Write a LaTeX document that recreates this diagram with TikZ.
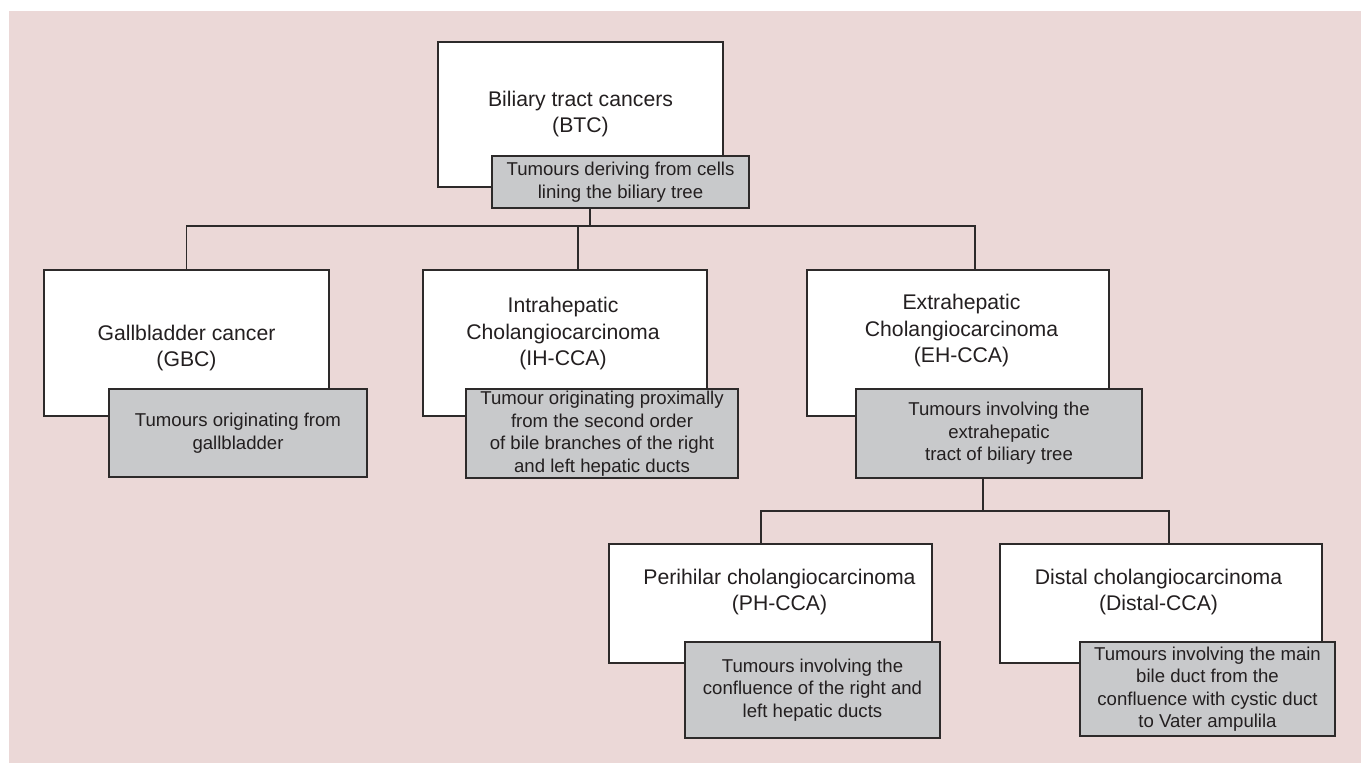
\documentclass[tikz,border=0pt]{standalone}
\usepackage{fontspec}
\setmainfont{Liberation Sans}
\definecolor{bgpink}{RGB}{235,216,215}
\definecolor{greyfill}{RGB}{200,201,203}
\definecolor{linec}{RGB}{45,42,42}
\definecolor{txt}{RGB}{35,31,32}
\begin{document}
\begin{tikzpicture}[x=1pt,y=-1pt,
  wbox/.style={draw=linec, fill=white, line width=1.4pt, inner sep=0pt, anchor=center},
  gbox/.style={draw=linec, fill=greyfill, line width=1.4pt, inner sep=0pt, anchor=center, align=center, text=txt,
     font=\fontsize{18.6}{22.5}\selectfont},
  wtext/.style={inner sep=0pt, align=center, text=txt, font=\fontsize{21.2}{26.5}\selectfont},
  conn/.style={draw=linec, line width=1.4pt}]
\useasboundingbox (0,0) rectangle (1361,763);
\fill[bgpink] (9,11) rectangle (1361,763);

% coordinates for connector columns
\coordinate (c590) at (590,0);
\coordinate (c578) at (578,0);
\coordinate (c975) at (975,0);
\coordinate (c983) at (983,0);
\coordinate (c761) at (761,0);
\coordinate (c1169) at (1169,0);
\coordinate (bus1) at (590,226);
\coordinate (bus2) at (983,511);

% boxes
\node[wbox, minimum width=285, minimum height=145] (btc) at (580.5,114.5) {};
\node[wtext] (btct) at (580.5,114) {Biliary tract cancers\\(BTC)};
\node[gbox, minimum width=257, minimum height=52] (btcg) at (620.5,182) {Tumours deriving from cells\\lining the biliary tree};

\node[wbox, minimum width=285, minimum height=146] (gbc) at (186.5,343) {};
\node[wtext] (gbct) at (186.5,348) {Gallbladder cancer\\(GBC)};
\node[gbox, minimum width=258, minimum height=88] (gbcg) at (238,433) {Tumours originating from\\gallbladder};

\node[wbox, minimum width=284, minimum height=146] (ih) at (565,343) {};
\node[wtext] (iht) at (563,334) {Intrahepatic\\Cholangiocarcinoma\\(IH-CCA)};
\node[gbox, minimum width=272, minimum height=89] (ihg) at (602,433.5) {Tumour originating proximally\\from the second order\\of bile branches of the right\\and left hepatic ducts};

\node[wbox, minimum width=302, minimum height=146] (eh) at (958,343) {};
\node[wtext] (eht) at (961.5,331) {Extrahepatic\\Cholangiocarcinoma\\(EH-CCA)};
\node[gbox, minimum width=286, minimum height=89] (ehg) at (999,433.5) {Tumours involving the\\extrahepatic\\tract of biliary tree};

\node[wbox, minimum width=323, minimum height=119] (ph) at (770.5,603.5) {};
\node[wtext] (pht) at (779.5,592) {Perihilar cholangiocarcinoma\\(PH-CCA)};
\node[gbox, minimum width=255, minimum height=96] (phg) at (812.5,690) {Tumours involving the\\confluence of the right and\\left hepatic ducts};

\node[wbox, minimum width=322, minimum height=119] (dis) at (1161,603.5) {};
\node[wtext] (dist) at (1158.5,592) {Distal cholangiocarcinoma\\(Distal-CCA)};
\node[gbox, minimum width=255, minimum height=94] (disg) at (1207.5,689) {Tumours involving the main\\bile duct from the\\confluence with cystic duct\\to Vater ampulila};

% connectors
\draw[conn] (btcg.south -| c590) -- (bus1);
\draw[conn] (gbc.north) |- (bus1) -| (eh.north -| c975);
\draw[conn] (bus1 -| c578) -- (ih.north -| c578);
\draw[conn] (ehg.south -| c983) -- (bus2);
\draw[conn] (ph.north -| c761) |- (bus2) -| (dis.north -| c1169);
\end{tikzpicture}
\end{document}
